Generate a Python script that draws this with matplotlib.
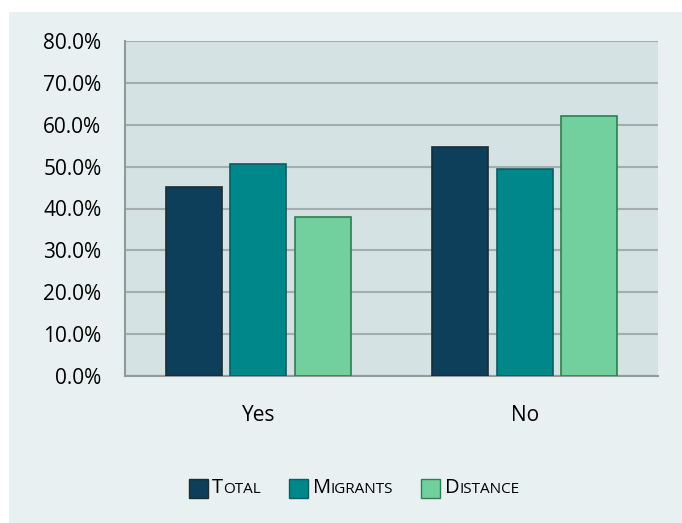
import matplotlib.pyplot as plt
import numpy as np
from matplotlib.patches import Rectangle
from matplotlib.offsetbox import (AnchoredOffsetbox, HPacker, TextArea,
                                  DrawingArea)

plt.rcParams['font.family'] = ['Open Sans', 'DejaVu Sans']

categorias = ["Yes", "No"]
series = ["Total", "Migrants", "Distance"]
total = [45.2, 54.8]
migrants = [50.6, 49.4]
distance = [38.0, 62.0]
yticks = [0, 10, 20, 30, 40, 50, 60, 70, 80]

cores = ["#0d3f5a", "#00878a", "#72cf9e"]
bordas = ["#1c2c34", "#0b5d62", "#2f7d52"]

W, H = 682, 523
fig = plt.figure(figsize=(W / 100, H / 100), dpi=100)
fig.patch.set_facecolor("white")
fig.patches.append(Rectangle((9 / W, 0), 1 - 9 / W, (H - 12) / H,
                             transform=fig.transFigure, facecolor="#e8f0f1",
                             edgecolor="none", zorder=-10))

ax = fig.add_axes([125 / W, 1 - 376 / H, (658 - 125) / W, (376 - 41) / H])
ax.set_facecolor("#d5e2e3")

x = np.arange(len(categorias))
larg = 0.21
passo = 0.242
for i, vals in enumerate([total, migrants, distance]):
    ax.bar(x + (i - 1) * passo, vals, larg, color=cores[i],
           edgecolor=bordas[i], linewidth=1.2, zorder=3)

ax.set_xlim(-0.5, 1.5)
ax.set_ylim(0, 80)
ax.set_yticks(yticks)
ax.set_yticklabels([f"{v:.1f}%" for v in yticks], fontsize=15)
ax.set_xticks(x)
ax.set_xticklabels(categorias, fontsize=15)
ax.tick_params(length=0)
ax.tick_params(axis="y", pad=17)
ax.tick_params(axis="x", pad=21)
ax.grid(axis="y", color="#a3adad", linewidth=1.5, zorder=0)
for s in ["top", "right"]:
    ax.spines[s].set_visible(False)
for s in ["left", "bottom"]:
    ax.spines[s].set_color("#8f9a9a")
    ax.spines[s].set_linewidth(1.5)

# legenda em small caps
itens = []
for i, nome in enumerate(series):
    quad = DrawingArea(15, 15, 0, 0)
    quad.add_artist(Rectangle((0, 0), 14, 14, facecolor=cores[i],
                              edgecolor=bordas[i], linewidth=1))
    t1 = TextArea(nome[0], textprops=dict(fontsize=14.5, color="black"))
    t2 = TextArea(nome[1:].upper(), textprops=dict(fontsize=11, color="black"))
    palavra = HPacker(children=[t1, t2], align="baseline", pad=0, sep=0)
    itens.append(HPacker(children=[quad, palavra], align="center", pad=0, sep=2))
caixa = HPacker(children=itens, align="center", pad=0, sep=20)
leg = AnchoredOffsetbox(loc="center", child=caixa, frameon=False,
                        bbox_to_anchor=(354 / W, 1 - 488 / H),
                        bbox_transform=fig.transFigure, pad=0, borderpad=0)
fig.add_artist(leg)

fig.savefig("out.png", dpi=100)
